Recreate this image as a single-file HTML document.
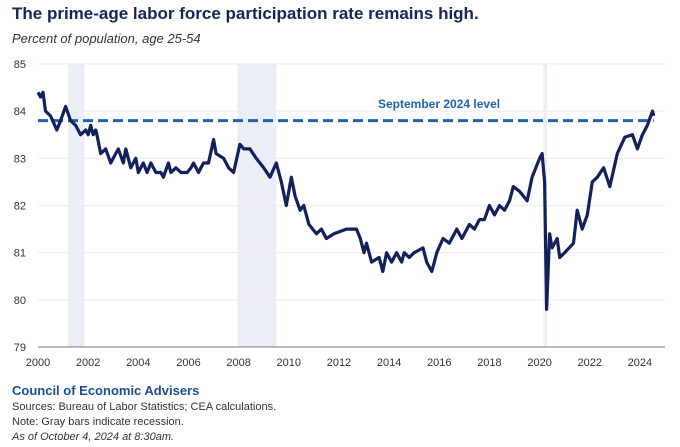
<!DOCTYPE html>
<html><head><meta charset="utf-8"><style>
body{margin:0;background:#fff;font-family:"Liberation Sans",sans-serif;}
.t{position:absolute;left:12px;}
</style></head><body>
<div style="position:relative;width:680px;height:447px;overflow:hidden">
<div class="t" style="top:4px;font-size:17px;font-weight:bold;color:#14265a">The prime-age labor force participation rate remains high.</div>
<div class="t" style="top:31px;font-size:13px;font-style:italic;color:#333">Percent of population, age 25-54</div>
<svg id="c" width="680" height="447" style="position:absolute;left:0;top:0"></svg>
<div class="t" style="top:383px;font-size:13px;font-weight:bold;color:#1b4f91">Council of Economic Advisers</div>
<div class="t" style="top:401px;font-size:11px;color:#333">Sources: Bureau of Labor Statistics; CEA calculations.</div>
<div class="t" style="top:416px;font-size:11px;color:#333">Note: Gray bars indicate recession.</div>
<div class="t" style="top:431px;font-size:11px;font-style:italic;color:#333">As of October 4, 2024 at 8:30am.</div>
</div>
<script>
const years=[2000,2000.1,2000.2,2000.3,2000.5,2000.75,2000.9,2001.1,2001.3,2001.5,2001.7,2001.9,2002.0,2002.1,2002.2,2002.3,2002.35,2002.5,2002.7,2002.9,2003.0,2003.2,2003.4,2003.5,2003.7,2003.9,2004.0,2004.2,2004.35,2004.5,2004.7,2004.9,2005.0,2005.2,2005.3,2005.5,2005.7,2005.95,2006.1,2006.2,2006.4,2006.6,2006.8,2007.0,2007.1,2007.4,2007.6,2007.8,2008.05,2008.2,2008.45,2008.7,2009.0,2009.25,2009.5,2009.7,2009.9,2010.1,2010.25,2010.45,2010.6,2010.8,2011.1,2011.3,2011.5,2011.8,2012.05,2012.3,2012.7,2012.85,2013.0,2013.1,2013.3,2013.6,2013.75,2013.9,2014.1,2014.3,2014.5,2014.6,2014.8,2015.0,2015.35,2015.5,2015.7,2015.9,2016.15,2016.4,2016.7,2016.9,2017.2,2017.4,2017.6,2017.8,2018.0,2018.2,2018.4,2018.6,2018.8,2018.95,2019.2,2019.5,2019.7,2020.0,2020.1,2020.2,2020.28,2020.4,2020.5,2020.7,2020.8,2021.0,2021.35,2021.5,2021.7,2021.9,2022.1,2022.3,2022.55,2022.8,2023.1,2023.4,2023.7,2023.9,2024.1,2024.3,2024.5,2024.55];
const values=[84.4,84.3,84.4,84.0,83.9,83.6,83.8,84.1,83.8,83.7,83.5,83.6,83.5,83.7,83.5,83.6,83.5,83.1,83.2,82.9,83.0,83.2,82.9,83.2,82.8,83.0,82.7,82.9,82.7,82.9,82.7,82.7,82.6,82.9,82.7,82.8,82.7,82.7,82.8,82.9,82.7,82.9,82.9,83.4,83.1,83.0,82.8,82.7,83.3,83.2,83.2,83.0,82.8,82.6,82.9,82.5,82.0,82.6,82.2,81.9,82.0,81.6,81.4,81.5,81.3,81.4,81.45,81.5,81.5,81.3,81.0,81.2,80.8,80.9,80.6,81.0,80.8,81.0,80.8,81.0,80.9,81.0,81.1,80.8,80.6,81.0,81.3,81.2,81.5,81.3,81.6,81.5,81.7,81.7,82.0,81.8,82.0,81.9,82.1,82.4,82.3,82.1,82.6,83.0,83.1,82.5,79.8,81.4,81.1,81.3,80.9,81.0,81.2,81.9,81.5,81.8,82.5,82.6,82.8,82.4,83.1,83.45,83.5,83.2,83.5,83.7,84.0,83.9];
const yTicks=[79,80,81,82,83,84,85];
const xTicks=[2000,2002,2004,2006,2008,2010,2012,2014,2016,2018,2020,2022,2024];
const recessions=[[2001.2,2001.85],[2007.95,2009.5],[2020.15,2020.3]];
const refLevel=83.8;
const NS="http://www.w3.org/2000/svg",svg=document.getElementById('c');
const X=v=>38+(v-2000)*25.08, Y=v=>347-(v-79)*47.17;
function mk(t,a,p){const e=document.createElementNS(NS,t);for(const k in a)e.setAttribute(k,a[k]);(p||svg).appendChild(e);return e;}
recessions.forEach(r=>{const e=mk('rect',{x:X(r[0]),y:Y(85),width:X(r[1])-X(r[0]),height:Y(79)-Y(85),fill:'#eceef6'});

});
yTicks.forEach(v=>{const g=mk('line',{x1:38,x2:665,y1:Y(v),y2:Y(v),stroke:'#ececf0','stroke-width':1});


const t=mk('text',{x:26,y:Y(v)+4,'text-anchor':'end','font-size':11,fill:'#333'});t.textContent=v;

});
mk('line',{x1:38,x2:665,y1:Y(79),y2:Y(79),stroke:'#777','stroke-width':1});
xTicks.forEach(v=>{const t=mk('text',{x:X(v),y:366,'text-anchor':'middle','font-size':11,fill:'#333'});t.textContent=v;

});
const ref=mk('line',{x1:38,x2:X(2024.55),y1:Y(refLevel),y2:Y(refLevel),stroke:'#1f63b0','stroke-width':3,'stroke-dasharray':'10,5'});


const lt=mk('text',{x:378,y:108,'font-size':12,'font-weight':'bold',fill:'#1f63b0'});lt.textContent='September 2024 level';


const d=years.map((y,i)=>(i?'L':'M')+X(y).toFixed(1)+','+Y(values[i]).toFixed(1)).join('');
const p=mk('path',{d:d,fill:'none',stroke:'#12205c','stroke-width':3.2,'stroke-linejoin':'round'});


</script>
</body></html>
